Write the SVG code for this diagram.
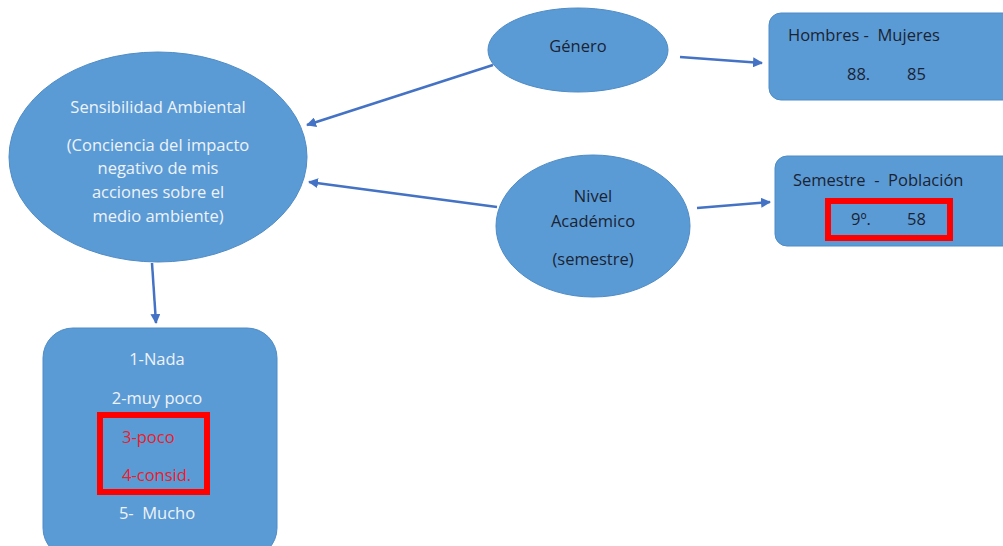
<svg xmlns="http://www.w3.org/2000/svg" width="1003" height="546" viewBox="0 0 1003 546">
<style>
text{white-space:pre;font-family:"Open Sans","Liberation Sans",sans-serif;font-size:16.5px}
.n{fill:#5b9bd5;stroke:#4f8cc6;stroke-width:1}
.w{fill:#eef3fa;text-anchor:middle}
.d{fill:#1a2333}
.m{text-anchor:middle}
.r{fill:#e8202a}
.hl{fill:none;stroke:#ff0000;stroke-width:6}
.c{stroke:#4472c4;stroke-width:2.5;fill:none;marker-end:url(#ah)}
</style>
<defs>
<marker id="ah" viewBox="0 0 10 10" refX="9" refY="5" markerWidth="4" markerHeight="4" orient="auto" markerUnits="strokeWidth">
<path d="M0,0 L10,5 L0,10 z" fill="#4472c4"/>
</marker>
</defs>
<rect width="1003" height="546" fill="#ffffff"/>
<g id="sensibilidad">
<ellipse class="n" cx="158" cy="157" rx="149" ry="105"/>
<text class="w" x="158" y="113">Sensibilidad Ambiental</text>
<text class="w" x="158" y="151">(Conciencia del impacto</text>
<text class="w" x="158" y="174">negativo de mis</text>
<text class="w" x="158" y="198">acciones sobre el</text>
<text class="w" x="158" y="222">medio ambiente)</text>
</g>
<g id="escala">
<rect class="n" x="43" y="328" width="234" height="230" rx="30"/>
<text class="w" x="157" y="365">1-Nada</text>
<text class="w" x="157" y="404">2-muy poco</text>
<rect class="hl" x="100" y="415" width="107" height="77"/>
<text class="r" x="122" y="443">3-poco</text>
<text class="r" x="122" y="481">4-consid.</text>
<text class="w" x="157" y="519">5-  Mucho</text>
</g>
<g id="genero">
<ellipse class="n" cx="578" cy="50" rx="90" ry="42"/>
<text class="d m" x="578" y="52">Género</text>
</g>
<g id="hombres">
<rect class="n" x="769" y="13" width="250" height="87" rx="12"/>
<text class="d" x="788" y="41">Hombres -  Mujeres</text>
<text class="d" x="847" y="80">88.</text>
<text class="d" x="907" y="80">85</text>
</g>
<g id="nivel">
<ellipse class="n" cx="593" cy="226" rx="97" ry="71"/>
<text class="d m" x="593" y="202">Nivel</text>
<text class="d m" x="593" y="227">Académico</text>
<text class="d m" x="593" y="265">(semestre)</text>
</g>
<g id="semestre">
<rect class="n" x="775" y="156" width="250" height="90" rx="12"/>
<text class="d" x="793" y="186">Semestre  -  Población</text>
<rect class="hl" x="828" y="201" width="122" height="37"/>
<text class="d" x="851" y="225">9º.</text>
<text class="d" x="907" y="225">58</text>
</g>
<g id="connectors">
<line class="c" x1="493" y1="65" x2="307" y2="125"/>
<line class="c" x1="497" y1="207" x2="309" y2="182"/>
<line class="c" x1="680" y1="57" x2="762" y2="63"/>
<line class="c" x1="697" y1="208" x2="770" y2="202"/>
<line class="c" x1="152" y1="263" x2="156" y2="323"/>
</g>
</svg>
